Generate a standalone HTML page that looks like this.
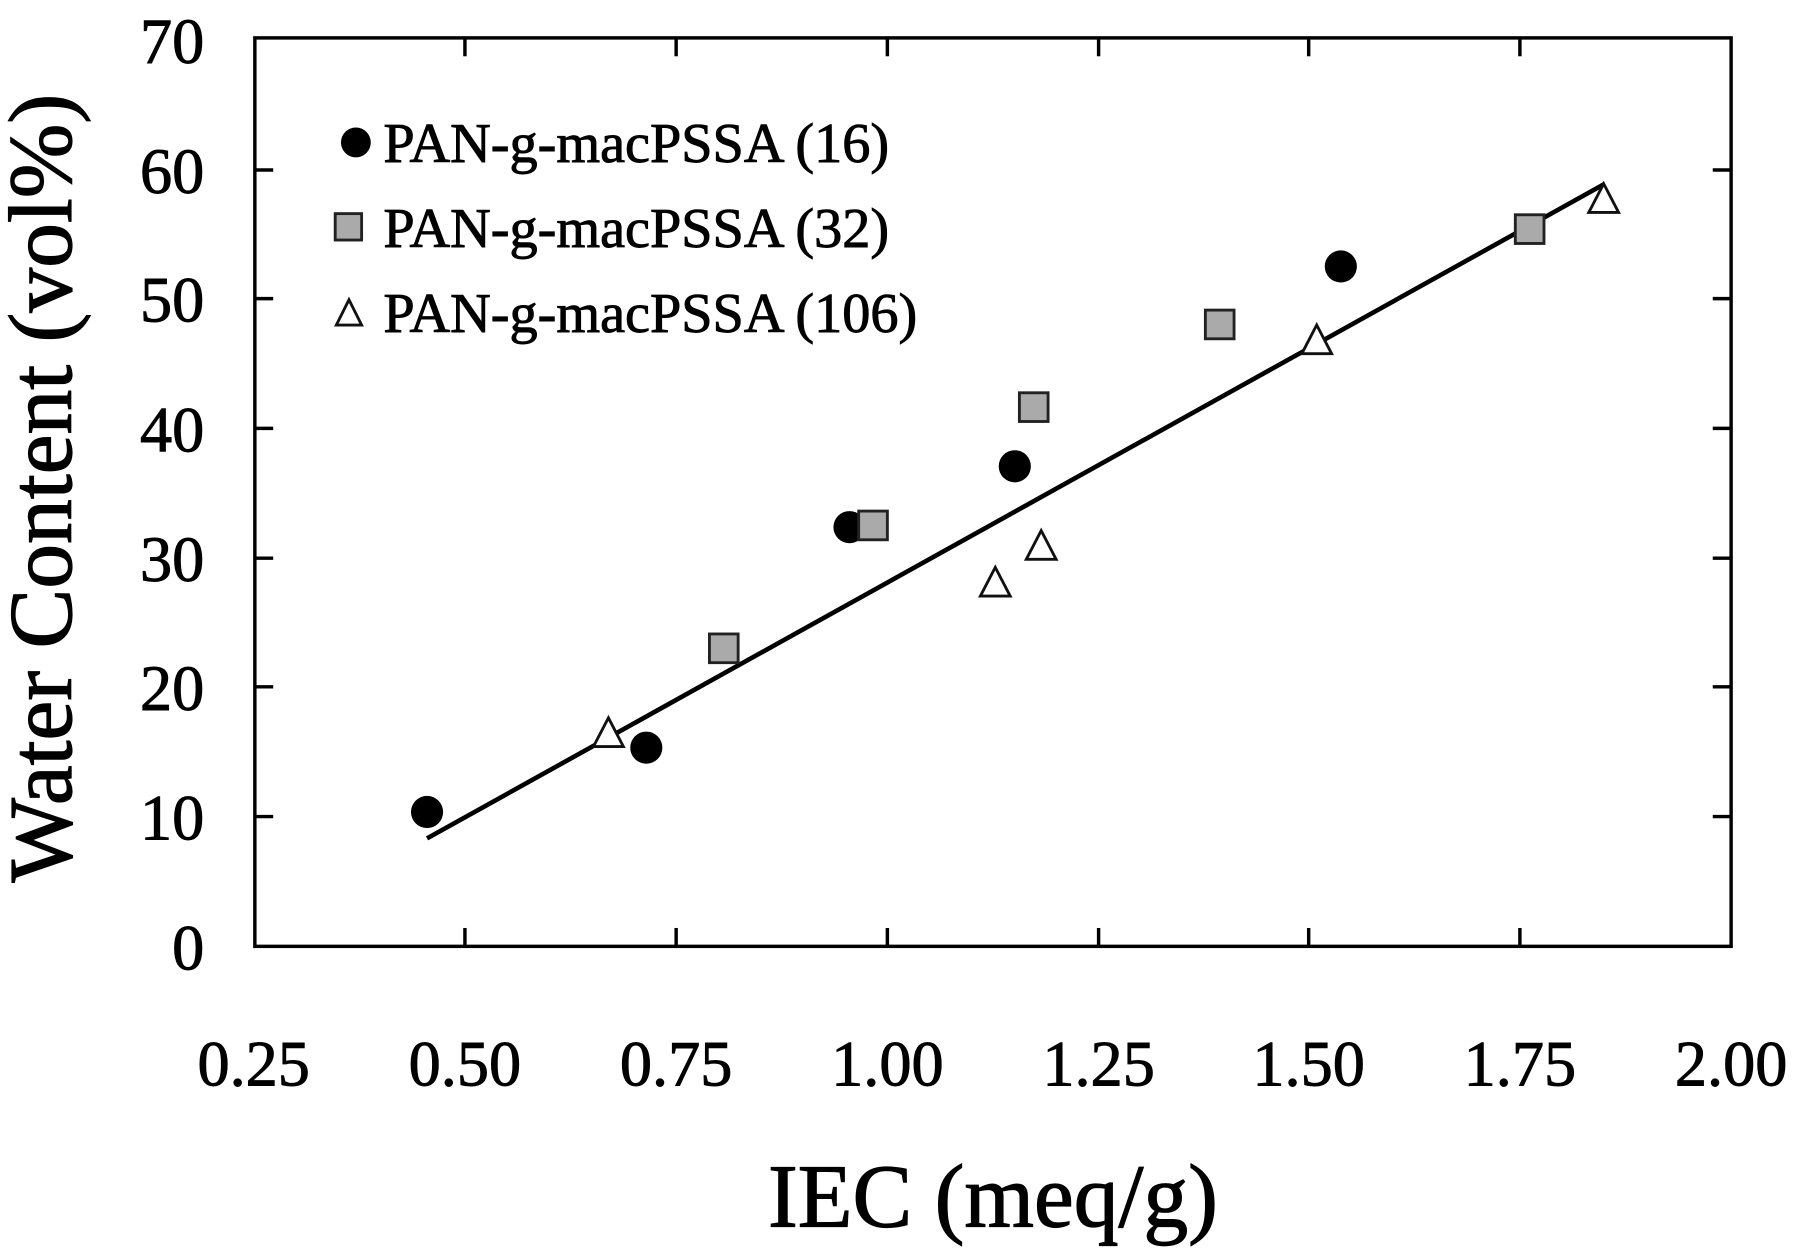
<!DOCTYPE html>
<html><head><style>html,body{margin:0;padding:0;background:#fff;}svg{display:block;}</style></head>
<body>
<svg width="1800" height="1253" viewBox="0 0 1568 1091" preserveAspectRatio="none" xmlns="http://www.w3.org/2000/svg" font-family="'Liberation Serif', serif">
<rect x="222" y="33" width="1286" height="791" fill="none" stroke="#000" stroke-width="3"/>
<g stroke="#000" stroke-width="3">
<line x1="405" y1="824" x2="405" y2="808"/><line x1="589" y1="824" x2="589" y2="808"/><line x1="773" y1="824" x2="773" y2="808"/><line x1="957" y1="824" x2="957" y2="808"/><line x1="1140" y1="824" x2="1140" y2="808"/><line x1="1324" y1="824" x2="1324" y2="808"/>
<line x1="405" y1="33" x2="405" y2="49"/><line x1="589" y1="33" x2="589" y2="49"/><line x1="773" y1="33" x2="773" y2="49"/><line x1="957" y1="33" x2="957" y2="49"/><line x1="1140" y1="33" x2="1140" y2="49"/><line x1="1324" y1="33" x2="1324" y2="49"/>
<line x1="222" y1="711" x2="238" y2="711"/><line x1="222" y1="598" x2="238" y2="598"/><line x1="222" y1="486" x2="238" y2="486"/><line x1="222" y1="373" x2="238" y2="373"/><line x1="222" y1="260" x2="238" y2="260"/><line x1="222" y1="148" x2="238" y2="148"/>
<line x1="1508" y1="711" x2="1492" y2="711"/><line x1="1508" y1="598" x2="1492" y2="598"/><line x1="1508" y1="486" x2="1492" y2="486"/><line x1="1508" y1="373" x2="1492" y2="373"/><line x1="1508" y1="260" x2="1492" y2="260"/><line x1="1508" y1="148" x2="1492" y2="148"/>
</g>
<g font-size="56" text-anchor="end" stroke="#000" stroke-width="0.8">
<text x="178" y="844">0</text><text x="178" y="731">10</text><text x="178" y="618">20</text><text x="178" y="506">30</text><text x="178" y="393">40</text><text x="178" y="280">50</text><text x="178" y="168">60</text><text x="178" y="55">70</text>
</g>
<g font-size="56" text-anchor="middle" stroke="#000" stroke-width="0.8">
<text x="221" y="945">0.25</text><text x="405" y="945">0.50</text><text x="589" y="945">0.75</text><text x="773" y="945">1.00</text><text x="957" y="945">1.25</text><text x="1140" y="945">1.50</text><text x="1324" y="945">1.75</text><text x="1508" y="945">2.00</text>
</g>
<text x="865" y="1068" font-size="78" text-anchor="middle" stroke="#000" stroke-width="1">IEC (meq/g)</text>
<text transform="translate(62,425) rotate(-90)" font-size="78" text-anchor="middle" stroke="#000" stroke-width="1">Water Content (vol%)</text>
<line x1="372" y1="730" x2="1398" y2="160" stroke="#000" stroke-width="4"/>
<g fill="#000">
<circle cx="372" cy="707" r="14"/><circle cx="563" cy="651" r="14"/><circle cx="740" cy="459" r="14"/><circle cx="884" cy="406" r="14"/><circle cx="1168" cy="232" r="14"/>
</g>
<g fill="#aaa" stroke="#222" stroke-width="2.5">
<rect x="618" y="552" width="25" height="25"/><rect x="748" y="445" width="25" height="25"/><rect x="888" y="342" width="25" height="25"/><rect x="1050" y="270" width="25" height="25"/><rect x="1320" y="187" width="25" height="25"/>
</g>
<g fill="#fff" stroke="#111" stroke-width="2.5">
<polygon points="530,625 543,650 517,650"/><polygon points="867,494 880,519 854,519"/><polygon points="907,462 920,487 894,487"/><polygon points="1147,283 1160,308 1134,308"/><polygon points="1397,160 1410,185 1384,185"/>
</g>
<circle cx="310" cy="124" r="13" fill="#000"/>
<rect x="292" y="186" width="23" height="23" fill="#aaa" stroke="#222" stroke-width="2.5"/>
<polygon points="304,261 315,283 293,283" fill="#fff" stroke="#111" stroke-width="2.5"/>
<g font-size="49" stroke="#000" stroke-width="0.8">
<text x="334" y="141">PAN-g-macPSSA (16)</text>
<text x="334" y="215">PAN-g-macPSSA (32)</text>
<text x="334" y="289">PAN-g-macPSSA (106)</text>
</g>
</svg>
</body></html>
